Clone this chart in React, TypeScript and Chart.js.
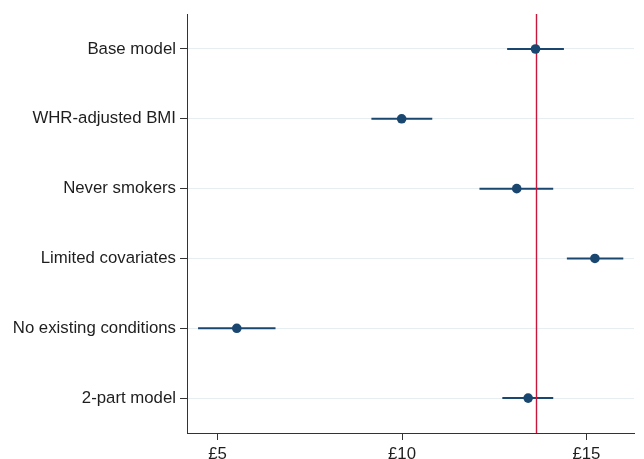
import React, { useEffect, useRef } from "react";
import { Chart, registerables } from "chart.js";

Chart.register(...registerables);

const categories = [
  "Base model",
  "WHR-adjusted BMI",
  "Never smokers",
  "Limited covariates",
  "No existing conditions",
  "2-part model",
];
const estimates = [13.62, 9.99, 13.11, 15.23, 5.52, 13.42];
const lowerCI = [12.85, 9.17, 12.1, 14.47, 4.47, 12.72];
const upperCI = [14.39, 10.82, 14.1, 16.0, 6.57, 14.1];
const referenceValue = 13.63;
const xTicks = [5, 10, 15];
const xMin = 4.17;
const xMax = 16.29;

const NAVY = "#1a476f";
const RED = "#c8173a";
const TEXT = "#1e1e1e";
const FONT = "'Liberation Sans', Arial, Helvetica, sans-serif";

const forestPlugin = {
  id: "forest",
  beforeDatasetsDraw(chart: any) {
    const { ctx, chartArea, scales } = chart;
    const xs = scales.x;
    const ys = scales.y;
    ctx.save();
    ctx.strokeStyle = NAVY;
    ctx.lineWidth = 2;
    categories.forEach((c, i) => {
      const y = ys.getPixelForValue(i);
      ctx.beginPath();
      ctx.moveTo(xs.getPixelForValue(lowerCI[i]), y);
      ctx.lineTo(xs.getPixelForValue(upperCI[i]), y);
      ctx.stroke();
    });
    const rx = Math.round(xs.getPixelForValue(referenceValue)) + 0.5;
    ctx.strokeStyle = RED;
    ctx.lineWidth = 1.4;
    ctx.beginPath();
    ctx.moveTo(rx, chartArea.top);
    ctx.lineTo(rx, chartArea.bottom);
    ctx.stroke();
    ctx.restore();
  },
};

export default function App() {
  const ref = useRef<HTMLCanvasElement | null>(null);
  useEffect(() => {
    if (!ref.current) return;
    const chart = new Chart(ref.current, {
      type: "scatter",
      data: {
        labels: categories,
        datasets: [
          {
            data: categories.map((c, i) => ({ x: estimates[i], y: c })) as any,
            backgroundColor: NAVY,
            borderColor: NAVY,
            pointRadius: 4.8,
            pointHoverRadius: 4.8,
            borderWidth: 0,
          },
        ],
      },
      options: {
        animation: false,
        responsive: true,
        maintainAspectRatio: false,
        layout: { padding: { top: 14, right: 10, left: 0, bottom: 0 } },
        plugins: {
          legend: { display: false },
          tooltip: { enabled: false },
        },
        scales: {
          x: {
            type: "linear",
            min: xMin,
            max: xMax,
            afterBuildTicks: (axis: any) => {
              axis.ticks = xTicks.map((v) => ({ value: v }));
            },
            afterFit: (axis: any) => {
              axis.height = 26;
            },
            ticks: {
              color: TEXT,
              font: { family: FONT, size: 16.8 },
              padding: 4,
              callback: (v: any) => "£" + v,
            },
            grid: {
              drawOnChartArea: false,
              tickLength: 7,
              tickColor: "#333333",
            },
            border: { color: "#333333", width: 1 },
          },
          y: {
            type: "category",
            labels: categories,
            offset: true,
            afterFit: (axis: any) => {
              axis.width = 187;
            },
            ticks: {
              color: TEXT,
              font: { family: FONT, size: 16.8 },
              padding: 4,
            },
            grid: {
              offset: false,
              color: "#e6eef1",
              tickColor: "#333333",
              tickLength: 7,
              lineWidth: 1,
            },
            border: { color: "#333333", width: 1 },
          },
        },
      },
      plugins: [forestPlugin],
    });
    return () => chart.destroy();
  }, []);
  return (
    <div
      style={{
        position: "fixed",
        left: 0,
        top: 0,
        width: 644,
        height: 459,
        background: "#ffffff",
      }}
    >
      <canvas ref={ref} />
    </div>
  );
}
